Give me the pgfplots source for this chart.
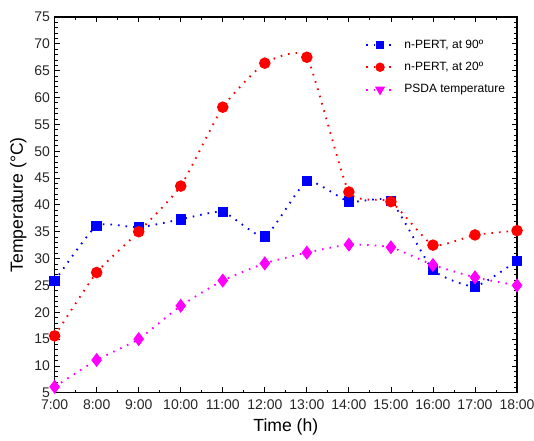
\documentclass[border=0pt]{standalone}
\usepackage{fontspec}
\setmainfont{Liberation Sans}
\usepackage{pgfplots}
\pgfplotsset{compat=1.18}
\definecolor{pblue}{RGB}{0,0,255}
\definecolor{pred}{RGB}{255,0,0}
\definecolor{pmag}{RGB}{255,0,255}
\begin{document}
\begin{tikzpicture}
\begin{axis}[
  name=ax,
  scale only axis, width=347pt, height=282pt,
  xmin=7, xmax=18, ymin=5, ymax=75,
  xtick={7,...,18},
  xticklabels={7:00,8:00,9:00,10:00,11:00,12:00,13:00,14:00,15:00,16:00,17:00,18:00},
  ytick={5,10,...,75},
  minor x tick num=1, minor y tick num=4,
  tick align=inside, tick pos=both,
  major tick length=4pt, minor tick length=2.2pt,
  every tick/.style={black, line width=0.6pt},
  axis line style={line width=0.8pt},
  /pgf/number format/assume math mode=true,
  tick label style={font=\fontsize{10.5}{12}\selectfont, text=black!85},
  xticklabel style={yshift=-2pt},
  xlabel={Time (h)}, ylabel={Temperature (°C)},
  label style={font=\fontsize{13.2}{15}\selectfont},
  xlabel style={yshift=0pt},
  ylabel style={yshift=-1pt},
  clip=false,
  legend style={draw=none, fill=none, at={(0.668,0.951)}, anchor=north west,
    font=\fontsize{9}{11}\selectfont, row sep=5pt, cells={anchor=west}, inner sep=1pt},
  legend cell align=left,
  legend image code/.code={
    \draw[mark repeat=2, mark phase=2, #1] plot coordinates {(0cm,0cm) (0.37cm,0cm) (0.74cm,0cm)};
    \path (0.74cm+5pt,0cm);},
  every axis plot/.append style={smooth, tension=0.3, line width=1.4pt, dash pattern=on 1.2pt off 4.5pt},
]
\addplot[pblue, mark=square*, mark size=3.2pt, mark options={solid},
  legend image post style={mark size=2.5pt}] coordinates {
 (7,25.8) (8,36.1) (9,35.8) (10,37.3) (11,38.7) (12,34.1) (13,44.4) (14,40.6) (15,40.7) (16,27.9) (17,24.8) (18,29.6)};
\addlegendentry{n-PERT, at 90º}
\addplot[pred, mark=*, mark size=3.6pt, mark options={solid},
  legend image post style={mark size=2.8pt}] coordinates {
 (7,15.6) (8,27.4) (9,35.0) (10,43.5) (11,58.2) (12,66.4) (13,67.5) (14,42.4) (15,40.6) (16,32.5) (17,34.4) (18,35.2)};
\addlegendentry{n-PERT, at 20º}
\addplot[pmag, mark=diamond*, mark size=4.2pt, mark options={solid},
  legend image post style={mark=triangle*, mark size=3pt, mark options={solid, rotate=180}}] coordinates {
 (7,6.1) (8,11.1) (9,15.0) (10,21.2) (11,25.9) (12,29.1) (13,31.1) (14,32.6) (15,32.1) (16,28.8) (17,26.5) (18,25.0)};
\addlegendentry{PSDA temperature}
\end{axis}
\pgfresetboundingbox
\path ([xshift=-41pt,yshift=-36pt]ax.south west) rectangle ([xshift=12.75pt,yshift=12.75pt]ax.north east);
\end{tikzpicture}
\end{document}
